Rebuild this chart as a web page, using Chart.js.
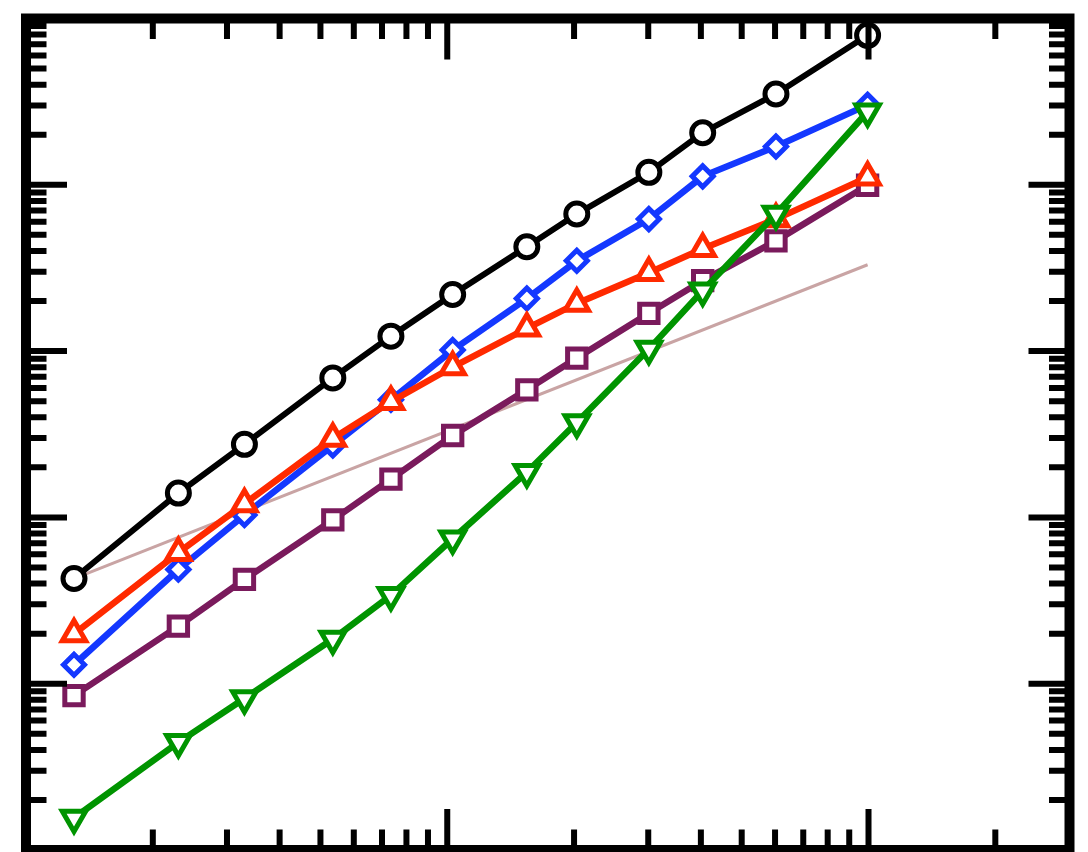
<!DOCTYPE html>
<html>
<head>
<meta charset="utf-8">
<script src="https://cdn.jsdelivr.net/npm/chart.js@4/dist/chart.umd.min.js"></script>
<style>
  html, body { margin: 0; padding: 0; background: #fff; overflow: hidden; }
  #wrap { width: 1088px; height: 870px; position: relative; }
</style>
</head>
<body>
<div id="wrap"><canvas id="c"></canvas></div>
<script>
// Sample positions along the (logarithmic) horizontal axis
const xValues = [13, 23, 33, 53.5, 73.5, 103, 154.5, 203, 301, 404, 603, 995];

// Measured series
const circleSeries      = [4.29, 14.0, 27.5, 69.0, 123, 219, 424, 667, 1188, 2057, 3516, 7920];
const diamondSeries     = [1.30, 4.86, 10.35, 27.1, 51.0, 101.4, 207, 349, 622, 1124, 1698, 3025];
const triangleUpSeries  = [1.99, 6.14, 12.05, 29.8, 49.6, 80.2, 137, 193.5, 296, 412, 622, 1109];
const squareSeries      = [0.848, 2.22, 4.24, 9.66, 17.0, 31.1, 58.5, 90.8, 168.7, 265.5, 460, 993];
const triangleDownSeries= [0.156, 0.444, 0.814, 1.857, 3.40, 7.44, 18.7, 37.2, 102.8, 231, 667, 2748];

// Thin guide line (end points)
const guideX = [13, 995];
const guideY = [4.29, 330.5];

// Axis extents
const xRange = [10, 3000];
const yRange = [0.1, 10000];

const pairs = (xs, ys) => xs.map((v, i) => ({ x: v, y: ys[i] }));

function series(data, color, style, radius, lineWidth, order, rotation) {
  return {
    data: pairs(xValues, data),
    borderColor: color,
    backgroundColor: '#ffffff',
    borderWidth: lineWidth,
    pointStyle: style,
    pointRadius: radius,
    pointHoverRadius: radius,
    pointBorderWidth: 5,
    pointBorderColor: color,
    pointBackgroundColor: '#ffffff',
    pointRotation: rotation || 0,
    tension: 0,
    fill: false,
    order: order
  };
}

// Frame with inward-pointing log ticks on all four sides
const framePlugin = {
  id: 'logFrame',
  afterDatasetsDraw(chart) {
    const { ctx, chartArea: a, scales } = chart;
    const xs = scales.x, ys = scales.y;
    const logTicks = (min, max) => {
      const out = [];
      const e0 = Math.floor(Math.log10(min)), e1 = Math.ceil(Math.log10(max));
      for (let e = e0; e <= e1; e++) {
        for (let m = 1; m < 10; m++) {
          const v = m * Math.pow(10, e);
          if (v > min * 1.0001 && v < max * 0.9999) out.push({ v, major: m === 1 });
        }
      }
      return out;
    };
    const majorLen = 41, minorLen = 20.5;
    ctx.save();
    ctx.strokeStyle = '#000';
    ctx.lineCap = 'butt';
    ctx.lineWidth = 6;
    ctx.beginPath();
    for (const t of logTicks(xRange[0], xRange[1])) {
      const px = xs.getPixelForValue(t.v);
      const L = t.major ? majorLen : minorLen;
      ctx.moveTo(px, a.bottom); ctx.lineTo(px, a.bottom - L);
      ctx.moveTo(px, a.top);    ctx.lineTo(px, a.top + L);
    }
    for (const t of logTicks(yRange[0], yRange[1])) {
      const py = ys.getPixelForValue(t.v);
      const L = t.major ? majorLen : minorLen;
      ctx.moveTo(a.left, py);  ctx.lineTo(a.left + L, py);
      ctx.moveTo(a.right, py); ctx.lineTo(a.right - L, py);
    }
    ctx.stroke();
    ctx.lineWidth = 10;
    ctx.lineJoin = 'miter';
    ctx.strokeRect(a.left, a.top, a.right - a.left, a.bottom - a.top);
    ctx.restore();
  }
};

new Chart(document.getElementById('c'), {
  type: 'line',
  data: {
    datasets: [
      {
        data: pairs(guideX, guideY),
        borderColor: '#c9a4a4',
        borderWidth: 3,
        pointRadius: 0,
        pointHoverRadius: 0,
        fill: false,
        order: 6
      },
      series(circleSeries, '#000000', 'circle', 11, 6, 5),
      series(squareSeries, '#7a1a5c', 'rect', 13, 6.5, 4),
      series(diamondSeries, '#1438ff', 'rectRot', 10.5, 6.5, 3),
      series(triangleUpSeries, '#ff2a00', 'triangle', 13.5, 6.5, 2),
      series(triangleDownSeries, '#009400', 'triangle', 13.5, 6.5, 1, 180)
    ]
  },
  options: {
    responsive: true,
    maintainAspectRatio: false,
    animation: false,
    layout: { padding: { left: 26, right: 12, top: 13.5, bottom: 20 } },
    plugins: { legend: { display: false }, tooltip: { enabled: false } },
    events: [],
    scales: {
      x: { type: 'logarithmic', min: xRange[0], max: xRange[1], display: false },
      y: { type: 'logarithmic', min: yRange[0], max: yRange[1], display: false }
    }
  },
  plugins: [framePlugin]
});
</script>
</body>
</html>
